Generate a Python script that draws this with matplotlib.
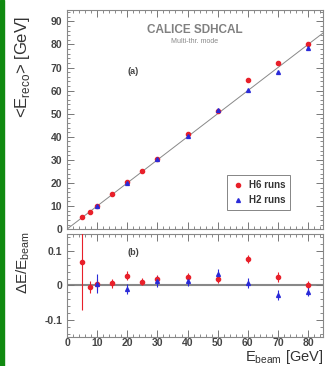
import matplotlib
matplotlib.use('Agg')
import matplotlib.pyplot as plt
from matplotlib.ticker import MultipleLocator
from matplotlib.patches import Rectangle

plt.rcParams['font.family'] = ['Liberation Sans', 'DejaVu Sans']
plt.rcParams['mathtext.fontset'] = 'custom'
plt.rcParams['mathtext.rm'] = 'Liberation Sans'

# H6 runs
h6_energy = [5, 7.5, 10, 15, 20, 25, 30, 40, 50, 60, 70, 80]
h6_reco = [5.3, 7.5, 10.0, 15.1, 20.6, 25.3, 30.5, 41.0, 51.0, 64.6, 71.8, 80.1]
h6_dev = [0.068, -0.004, 0.003, 0.007, 0.028, 0.011, 0.018, 0.025, 0.020, 0.077, 0.025, 0.001]
h6_err = [0.140, 0.018, 0.015, 0.013, 0.013, 0.010, 0.012, 0.010, 0.012, 0.012, 0.014, 0.012]

# H2 runs
h2_energy = [10, 20, 30, 40, 50, 60, 70, 80]
h2_reco = [10.1, 19.8, 30.4, 40.5, 51.6, 60.4, 68.0, 78.6]
h2_dev = [0.005, -0.010, 0.012, 0.012, 0.033, 0.007, -0.028, -0.018]
h2_err = [0.028, 0.015, 0.015, 0.013, 0.015, 0.014, 0.015, 0.013]

red = '#e8202a'
blue = '#2a2ad8'
txt = '#444444'

fig = plt.figure(figsize=(3.27, 3.66), dpi=100)
fig.patches.append(Rectangle((0, 0), 4 / 327, 1, transform=fig.transFigure,
                             color='#108a10', zorder=0))

ax1 = fig.add_axes([0.205, 0.374, 0.783, 0.599])
ax2 = fig.add_axes([0.205, 0.079, 0.783, 0.282])

for ax in (ax1, ax2):
    ax.set_xlim(0, 85)
    ax.xaxis.set_major_locator(MultipleLocator(10))
    ax.xaxis.set_minor_locator(MultipleLocator(2))
    ax.tick_params(which='both', direction='in', top=True, right=True,
                   colors='#777777', labelcolor=txt, labelsize=7.5)
    ax.tick_params(which='major', length=5, width=0.7)
    ax.tick_params(which='minor', length=2.5, width=0.6)
    ax.tick_params(axis='x', pad=0.8)
    for s in ax.spines.values():
        s.set_color('#888888')
        s.set_linewidth(0.8)

# top panel
ax1.plot([0, 85], [0, 85], color='#888888', lw=0.7, zorder=1)
ax1.plot(h6_energy, h6_reco, 'o', color=red, ms=3.0, label='H6 runs', zorder=3)
ax1.plot(h2_energy, h2_reco, '^', color=blue, ms=2.8, label='H2 runs', zorder=3)
ax1.set_ylim(0, 95)
ax1.yaxis.set_minor_locator(MultipleLocator(2))
ax1.set_xticklabels([])
ax1.set_yticks(range(0, 100, 10))
ax1.set_yticklabels([str(v) for v in range(0, 100, 10)], fontweight='bold')
ax1.set_ylabel(r'<E$_{\rm reco}$> [GeV]', fontsize=12, color='#333333')
ax1.yaxis.set_label_coords(-0.135, 0.74)
ax1.text(0.5, 0.91, 'CALICE SDHCAL', transform=ax1.transAxes, ha='center',
         va='center', fontsize=8.5, fontweight='bold', color='#808080')
ax1.text(0.5, 0.855, 'Multi-thr. mode', transform=ax1.transAxes, ha='center',
         va='center', fontsize=5, color='#888888')
ax1.text(0.26, 0.72, '(a)', transform=ax1.transAxes, ha='center',
         va='center', fontsize=6.5, fontweight='bold', color='#444444')
leg = ax1.legend(loc='lower right', bbox_to_anchor=(0.89, 0.065), fontsize=7,
                 frameon=True, fancybox=False, handletextpad=0.5,
                 borderpad=0.5, handlelength=1.2, labelspacing=0.5)
leg.get_frame().set_edgecolor('#666666')
leg.get_frame().set_linewidth(0.7)
for t in leg.get_texts():
    t.set_fontweight('bold')
    t.set_color('#333333')

# bottom panel
ax2.axhline(0, color='#888888', lw=1.5, zorder=1)
ax2.errorbar(h6_energy, h6_dev, yerr=h6_err, fmt='o', color=red, ms=3.0,
             elinewidth=0.8, capsize=0, zorder=3)
ax2.errorbar(h2_energy, h2_dev, yerr=h2_err, fmt='^', color=blue, ms=2.8,
             elinewidth=0.8, capsize=0, zorder=3)
ax2.set_ylim(-0.15, 0.15)
ax2.set_yticks([-0.1, 0, 0.1])
ax2.set_yticklabels(['-0.1', '0', '0.1'], fontweight='bold')
ax2.yaxis.set_minor_locator(MultipleLocator(0.02))
ax2.set_xticks(range(0, 90, 10))
ax2.set_xticklabels([str(v) for v in range(0, 90, 10)], fontweight='bold')
ax2.set_ylabel(r'$\Delta$E/E$_{\rm beam}$', fontsize=11, color='#333333')
ax2.yaxis.set_label_coords(-0.135, 0.72)
fig.text(323 / 327, 1 - 361 / 366, r'E$_{\rm beam}$ [GeV]', ha='right',
         va='baseline', fontsize=10.5, color='#333333')
ax2.text(0.26, 0.8, '(b)', transform=ax2.transAxes, ha='center',
         fontsize=6.5, fontweight='bold', color='#444444')

fig.savefig('out.png', dpi=100)
